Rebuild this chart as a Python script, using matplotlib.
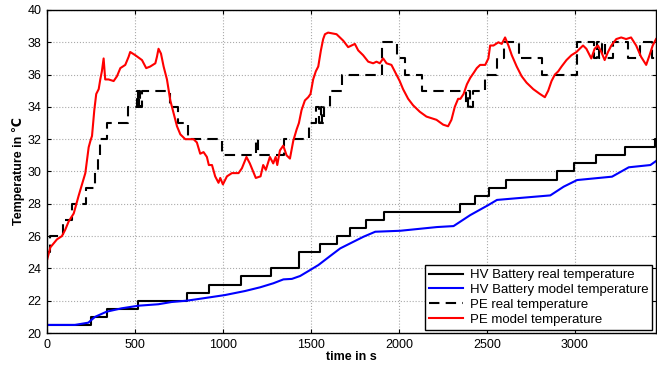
import numpy as np
import matplotlib
matplotlib.use("Agg")
import matplotlib.pyplot as plt

plt.rcParams['font.family'] = ['Liberation Sans', 'DejaVu Sans']

# HV battery real temperature (step changes: start time, value)
hv_real_t = [0, 248, 343, 520, 794, 923, 1103, 1272, 1433, 1553, 1648, 1723, 1814, 1913,
             2349, 2434, 2514, 2611, 2899, 2994, 3123, 3284, 3455, 3470]
hv_real_v = [20.5, 21.0, 21.5, 22.0, 22.5, 23.0, 23.5, 24.0, 25.0, 25.5, 26.0, 26.5, 27.0, 27.5,
             28.0, 28.5, 29.0, 29.5, 30.0, 30.5, 31.0, 31.5, 32.0, 32.0]

# HV battery model temperature
hv_model_t = [0, 159, 235, 273, 339, 425, 520, 633, 709, 794, 889, 1012, 1126, 1212, 1287,
              1344, 1392, 1439, 1496, 1543, 1610, 1667, 1742, 1799, 1866, 2008, 2217, 2311,
              2406, 2510, 2558, 2709, 2861, 2937, 3013, 3212, 3307, 3430, 3470]
hv_model_v = [20.5, 20.5, 20.64, 21.0, 21.32, 21.53, 21.69, 21.78, 21.92, 22.0, 22.15, 22.35,
              22.6, 22.83, 23.08, 23.32, 23.35, 23.53, 23.9, 24.21, 24.77, 25.24, 25.65, 25.96,
              26.27, 26.33, 26.56, 26.62, 27.3, 27.93, 28.24, 28.38, 28.52, 29.06, 29.47,
              29.68, 30.26, 30.4, 30.71]

# PE real temperature (step changes)
pe_real_t = [0, 17, 93, 140, 220, 273, 292, 300, 339, 463, 510, 515, 525, 530, 538, 700, 747,
             804, 993, 1190, 1200, 1350, 1487, 1530, 1545, 1555, 1565, 1575, 1610, 1676, 1904,
             1989, 2036, 2131, 2380, 2395, 2405, 2420, 2491, 2558, 2596, 2681, 2814, 3010,
             3110, 3125, 3140, 3155, 3170, 3215, 3305, 3370, 3440, 3470]
pe_real_v = [25, 26, 27, 28, 29, 30, 31, 32, 33, 34, 35, 34, 35, 34, 35, 34, 33,
             32, 31, 32, 31, 32, 33, 34, 33, 34, 33, 34, 35, 36, 38,
             37, 36, 35, 34, 35, 34, 35, 36, 37, 38, 37, 36, 38,
             37, 38, 37, 38, 37, 38, 37, 38, 37, 37]

# PE model temperature
pe_model_t = [0, 19, 57, 85, 104, 123, 152, 180, 199, 218, 237, 247, 256, 269, 280, 294, 303,
              312, 322, 331, 350, 379, 398, 417, 445, 464, 473, 502, 540, 564, 587, 616, 625,
              634, 648, 663, 682, 701, 720, 739, 758, 786, 833, 852, 871, 890, 909, 920, 938,
              956, 975, 985, 1000, 1023, 1051, 1089, 1108, 1134, 1153, 1172, 1187, 1214, 1229,
              1244, 1267, 1286, 1300, 1309, 1324, 1343, 1362, 1381, 1400, 1419, 1432, 1447,
              1466, 1485, 1498, 1513, 1528, 1542, 1557, 1570, 1580, 1598, 1646, 1684, 1712,
              1731, 1750, 1769, 1797, 1826, 1854, 1873, 1892, 1911, 1930, 1958, 1977, 2005,
              2024, 2053, 2081, 2119, 2157, 2214, 2252, 2280, 2299, 2318, 2337, 2350, 2368,
              2387, 2406, 2425, 2443, 2462, 2491, 2509, 2519, 2538, 2566, 2585, 2604, 2623,
              2642, 2670, 2698, 2726, 2764, 2802, 2830, 2849, 2868, 2887, 2906, 2925, 2953,
              2981, 3010, 3028, 3047, 3066, 3094, 3113, 3132, 3151, 3170, 3189, 3208, 3236,
              3264, 3292, 3320, 3349, 3377, 3406, 3425, 3443, 3462]
pe_model_v = [24.5, 25.3, 25.8, 26.0, 26.4, 26.9, 27.4, 28.5, 29.2, 29.9, 31.5, 31.9, 32.2,
              33.8, 34.8, 35.1, 35.7, 36.2, 37.0, 35.7, 35.7, 35.6, 35.9, 36.4, 36.6, 37.1,
              37.4, 37.2, 36.9, 36.4, 36.5, 36.7, 37.1, 37.6, 37.3, 36.5, 35.7, 34.4, 33.6,
              32.8, 32.3, 32.0, 32.0, 31.8, 31.1, 31.2, 30.9, 30.4, 30.4, 29.7, 29.3, 29.6,
              29.2, 29.7, 29.9, 29.9, 30.2, 30.9, 30.5, 30.0, 29.6, 29.7, 30.4, 30.1, 30.9,
              30.5, 30.9, 30.4, 31.3, 31.6, 31.0, 30.8, 31.9, 32.6, 33.0, 33.8, 34.4, 34.6,
              34.8, 35.7, 36.2, 36.5, 37.5, 38.2, 38.5, 38.6, 38.5, 38.1, 37.7, 37.8, 37.9,
              37.5, 37.2, 36.8, 36.7, 36.8, 36.7, 37.0, 36.7, 36.6, 36.2, 35.6, 35.1, 34.5,
              34.1, 33.7, 33.4, 33.2, 32.9, 32.8, 33.2, 34.0, 34.5, 34.5, 34.8, 35.4, 35.8,
              36.1, 36.4, 36.6, 36.6, 37.0, 37.8, 37.8, 38.0, 37.9, 38.3, 37.8, 37.2, 36.5,
              35.9, 35.5, 35.1, 34.8, 34.6, 35.0, 35.6, 36.0, 36.2, 36.5, 36.9, 37.2, 37.4,
              37.6, 37.8, 37.6, 37.0, 37.6, 37.8, 37.4, 36.9, 37.4, 37.8, 38.2, 38.3, 38.2,
              38.3, 37.8, 37.1, 36.6, 37.2, 37.8, 38.2]


fig, ax = plt.subplots(figsize=(6.57, 3.70), dpi=100)
fig.subplots_adjust(left=0.0715, right=0.998, bottom=0.1, top=0.973)

ax.step(hv_real_t, hv_real_v, where='post', color='black', lw=1.5,
        label='HV Battery real temperature')
ax.plot(hv_model_t, hv_model_v, color='blue', lw=1.5,
        label='HV Battery model temperature')
ax.step(pe_real_t, pe_real_v, where='post', color='black', lw=1.5, ls=(0, (5, 3)),
        label='PE real temperature')
ax.plot(pe_model_t, pe_model_v, color='red', lw=1.5,
        label='PE model temperature')

ax.set_xlim(0, 3460)
ax.set_ylim(20, 40)
ax.set_xticks(np.arange(0, 3001, 500))
ax.set_yticks(np.arange(20, 41, 2))
ax.tick_params(direction='in', labelsize=9, top=True, right=True, length=3, pad=4)
ax.grid(True, ls=':', color='#aaaaaa', lw=0.8)
for s in ax.spines.values():
    s.set_linewidth(1.0)

ax.set_xlabel('time in s', fontsize=9, fontweight='bold', labelpad=0)
ax.set_ylabel('Temperature in ℃', fontsize=9, fontweight='bold', labelpad=2)

leg = ax.legend(loc='lower right', fontsize=9.5, handlelength=2.6, borderaxespad=0.25,
                fancybox=False, edgecolor='black', framealpha=1, labelspacing=0.2,
                borderpad=0.3, handletextpad=0.5)
leg.get_frame().set_linewidth(1.0)

fig.savefig('out.png', dpi=100)
